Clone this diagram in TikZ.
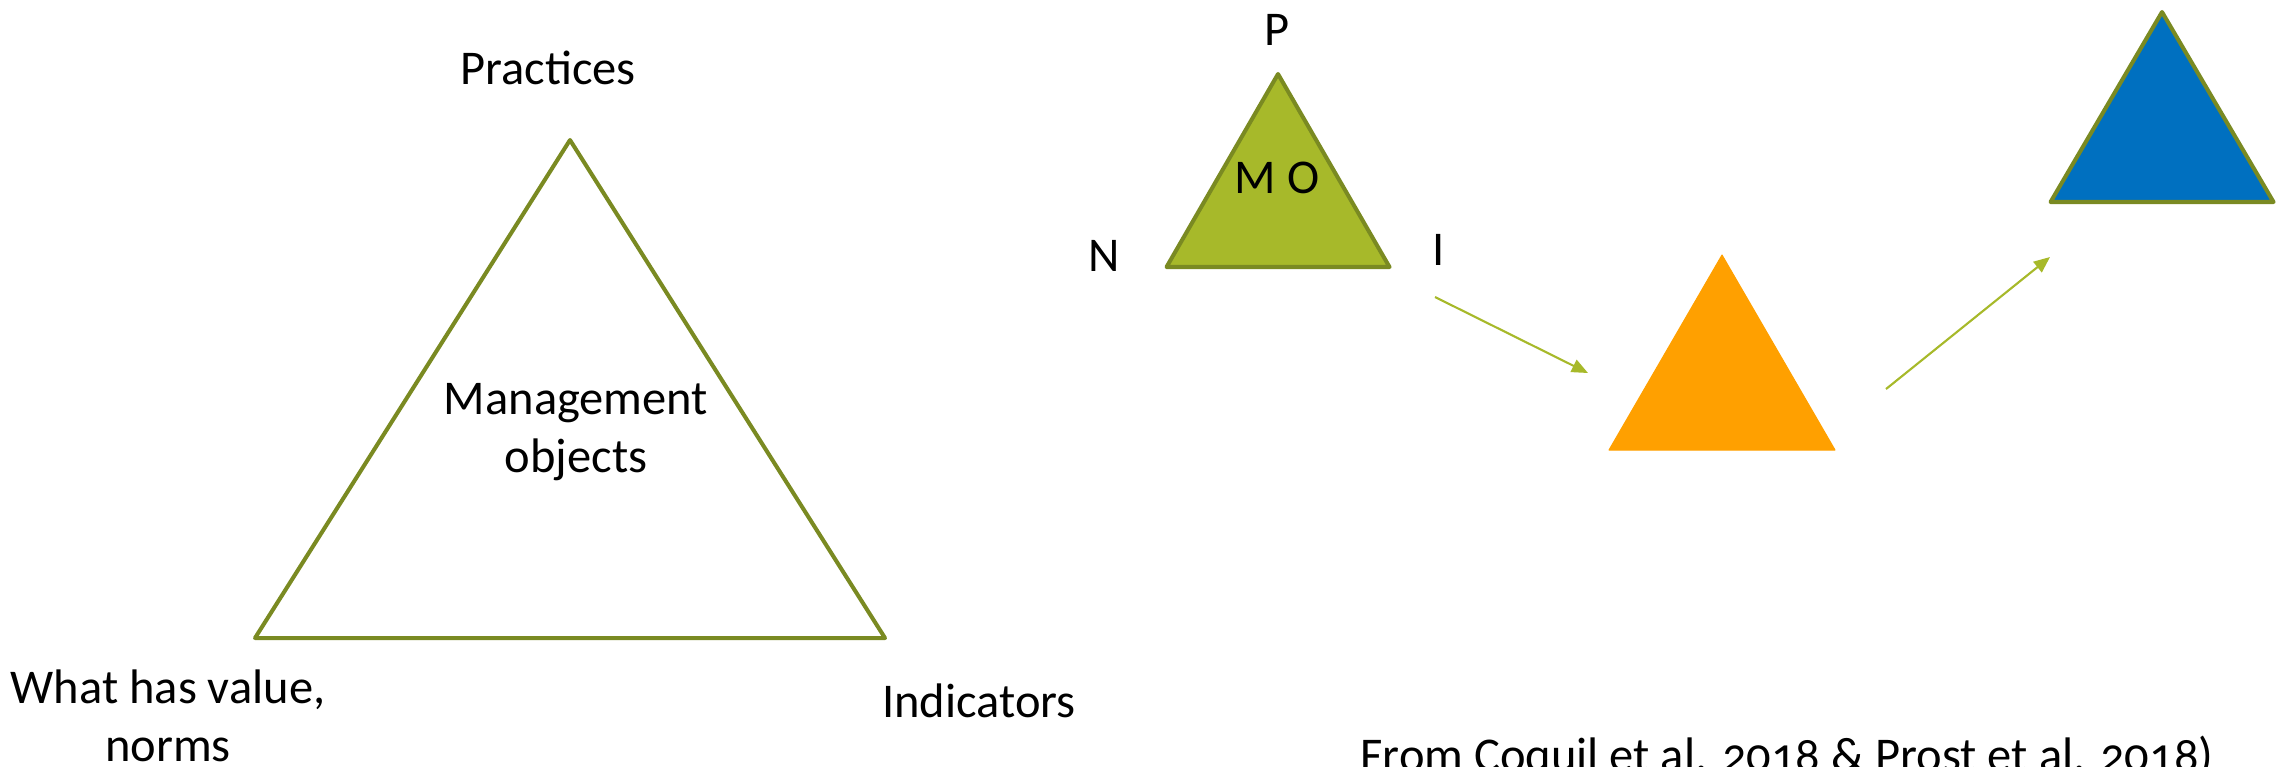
\documentclass[tikz,border=0pt]{standalone}
\usepackage{fontspec}
\setmainfont{Carlito}[Numbers=OldStyle]
\usetikzlibrary{arrows.meta}
\definecolor{mooliv}{HTML}{7A8A22}
\definecolor{molime}{HTML}{A7B92A}
\definecolor{moorange}{HTML}{FFA000}
\definecolor{moblue}{HTML}{0070C0}
\tikzset{
  outline/.style = {draw=mooliv, line width=1.15pt, line join=round},
  txt/.style = {inner sep=0pt, anchor=base},
  flow/.style = {draw=molime, line width=0.6pt, -{Triangle[length=4.6pt,width=3.8pt]}}
}

\begin{document}
\begin{tikzpicture}[x=0.1mm,y=-0.1mm,font=\fontsize{13.8}{16.5}\selectfont]
\useasboundingbox (0,0) rectangle (2282,766);

% triangle with apex (#3,#4), base width #5, height #6
\newcommand{\triangleat}[6][]{%
  \pgfmathsetmacro{\hw}{#5/2}%
  \coordinate (#2-top) at (#3,#4);%
  \coordinate (#2-left) at ({#3-\hw},{#4+#6});%
  \coordinate (#2-right) at ({#3+\hw},{#4+#6});%
  \path[#1] (#2-top) -- (#2-left) -- (#2-right) -- cycle;%
}

% big triangle
\triangleat[outline]{big}{570}{140}{630}{498}

% small triangle and the two steps
\triangleat[outline,fill=molime]{mo}{1278}{74}{223}{193}
\triangleat[fill=moorange,draw=moorange,line width=0.3pt,line join=round]{stepA}{1722}{255}{226}{195}
\triangleat[outline,fill=moblue]{stepB}{2162}{12}{223}{190}

% arrows
\coordinate (a1s) at (1435,297);
\coordinate (a1e) at (1588,373);
\coordinate (a2s) at (1886,389);
\coordinate (a2e) at (2050,257);
\draw[flow] (a1s) -- (a1e);
\draw[flow] (a2s) -- (a2e);

% labels of the big triangle
\node[txt] (practices) at (548,84) {Practices};
\node[txt,anchor=north,align=center] (mgmt) at (576,383) {Management\\ objects};
\node[txt,anchor=north,align=center] (values) at (168,669) {What has value,\\ norms};
\node[txt] (indic) at (979,717) {Indicators};

% labels of the small triangle
\node[txt] (p) at (1277,45) {P};
\node[txt] (n) at (1104,271) {N};
\node[txt] (i) at (1439,265) {I};
\node[txt] (mo) at (1277,193) {M O};

% source
\node[txt,anchor=base west] (src) at (1360,771) {From Coquil et al. 2018 \& Prost et al. 2018)};
\end{tikzpicture}
\end{document}
